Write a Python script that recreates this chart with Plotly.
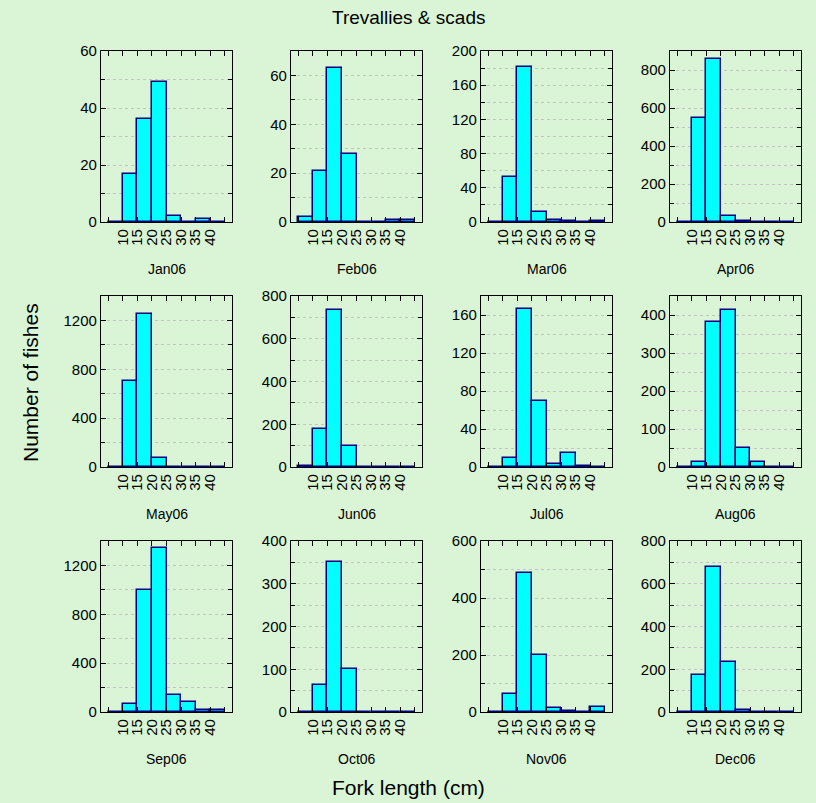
import plotly.graph_objects as go

# ---- data ----
months = ["Jan06", "Feb06", "Mar06", "Apr06", "May06", "Jun06",
          "Jul06", "Aug06", "Sep06", "Oct06", "Nov06", "Dec06"]
bin_centers = [7.5, 12.5, 17.5, 22.5, 27.5, 32.5, 37.5, 42.5]
tick_labels = ["10", "15", "20", "25", "30", "35", "40"]
tick_values = [10, 15, 20, 25, 30, 35, 40]

jan = [0, 17, 36, 49, 2, 0, 1, 0]
feb = [2, 21, 63, 28, 0, 0, 1, 1]
mar = [0, 53, 181, 12, 2, 1, 0, 1]
apr = [0, 547, 856, 31, 3, 0, 0, 0]
may = [0, 707, 1249, 73, 2, 0, 0, 0]
jun = [3, 178, 733, 97, 2, 2, 0, 0]
jul = [0, 10, 166, 69, 3, 15, 1, 0]
aug = [0, 12, 381, 414, 50, 14, 0, 0]
sep = [0, 63, 997, 1340, 142, 79, 16, 16]
oct_ = [0, 64, 350, 100, 1, 0, 0, 0]
nov = [0, 63, 488, 199, 15, 4, 1, 18]
dec = [2, 172, 677, 232, 9, 0, 0, 0]
series = [jan, feb, mar, apr, may, jun, jul, aug, sep, oct_, nov, dec]

# y axis settings: (max, major step, minor step)
yaxes_cfg = [(60, 20, 10), (70, 20, 10), (200, 40, 20), (900, 200, 100),
             (1400, 400, 200), (800, 200, 100), (180, 40, 20), (450, 100, 50),
             (1400, 400, 200), (400, 100, 50), (600, 200, 100), (800, 200, 100)]

W, H = 816, 803
col_left = [101, 291, 481, 670]
plot_w = 131
row_top = [51, 296, 541]
plot_h = 171

FONT = "Arial, Liberation Sans, sans-serif"

fig = go.Figure()
layout = {}
annotations = []
for i, (m, vals) in enumerate(zip(months, series)):
    r, c = divmod(i, 4)
    n = i + 1
    xa = "x" if n == 1 else f"x{n}"
    ya = "y" if n == 1 else f"y{n}"
    fig.add_trace(go.Bar(
        x=bin_centers, y=vals, width=5,
        marker=dict(color="#00FFFF", line=dict(color="#000080", width=1.5)),
        xaxis=xa, yaxis=ya, showlegend=False, hoverinfo="x+y"))
    x0 = col_left[c] / W
    x1 = (col_left[c] + plot_w) / W
    y1 = 1 - row_top[r] / H
    y0 = 1 - (row_top[r] + plot_h) / H
    ymax, major, minor = yaxes_cfg[i]
    layout["xaxis" if n == 1 else f"xaxis{n}"] = dict(
        domain=[x0, x1], anchor=ya, range=[2.5, 47.5], automargin=False,
        tickmode="array", tickvals=tick_values, ticktext=tick_labels,
        tickangle=-90, ticks="inside", ticklen=5, tickcolor="black",
        minor=dict(tickmode="array", tickvals=[5, 45], ticks="inside", ticklen=5, tickcolor="black"),
        showline=True, linecolor="black", linewidth=1.2, mirror="allticks",
        showgrid=False, zeroline=False,
        tickfont=dict(family=FONT, size=15, color="black"), fixedrange=True)
    layout["yaxis" if n == 1 else f"yaxis{n}"] = dict(
        domain=[y0, y1], anchor=xa, range=[0, ymax], automargin=False,
        tickmode="linear", tick0=0, dtick=major,
        ticks="inside", ticklen=5, tickcolor="black",
        minor=dict(dtick=minor, ticks="inside", ticklen=4, tickcolor="black",
                   showgrid=True, gridcolor="#c4c4c4", griddash="dot", gridwidth=1),
        showgrid=True, gridcolor="#c4c4c4", griddash="dot", gridwidth=1,
        showline=True, linecolor="black", linewidth=1.2, mirror="allticks",
        zeroline=False,
        tickfont=dict(family=FONT, size=15, color="black"), fixedrange=True)
    annotations.append(dict(
        text=m, x=(x0 + x1) / 2, y=1 - (row_top[r] + plot_h + 47) / H,
        xref="paper", yref="paper", showarrow=False, xanchor="center", yanchor="middle",
        font=dict(family=FONT, size=14, color="black")))

annotations.append(dict(text="Trevallies & scads", x=0.5, y=1 - 18 / H, xref="paper", yref="paper",
                        showarrow=False, xanchor="center", yanchor="middle",
                        font=dict(family=FONT, size=19, color="black")))
annotations.append(dict(text="Fork length (cm)", x=0.5, y=1 - 787 / H, xref="paper", yref="paper",
                        showarrow=False, xanchor="center", yanchor="middle",
                        font=dict(family=FONT, size=21, color="black")))
annotations.append(dict(text="Number of fishes", x=30 / W, y=1 - 383 / H, xref="paper", yref="paper",
                        showarrow=False, xanchor="center", yanchor="middle", textangle=-90,
                        font=dict(family=FONT, size=21, color="black")))

fig.update_layout(
    width=W, height=H, margin=dict(l=0, r=0, t=0, b=0, autoexpand=False),
    paper_bgcolor="#d9f5d5", plot_bgcolor="rgba(0,0,0,0)",
    bargap=0, annotations=annotations, **layout)

post = (
    "document.body.style.margin='0';"
    "document.body.style.overflow='hidden';"
    "document.body.style.background='#d9f5d5';"
)
fig.write_html("out.html", config={"displayModeBar": False}, post_script=post)
